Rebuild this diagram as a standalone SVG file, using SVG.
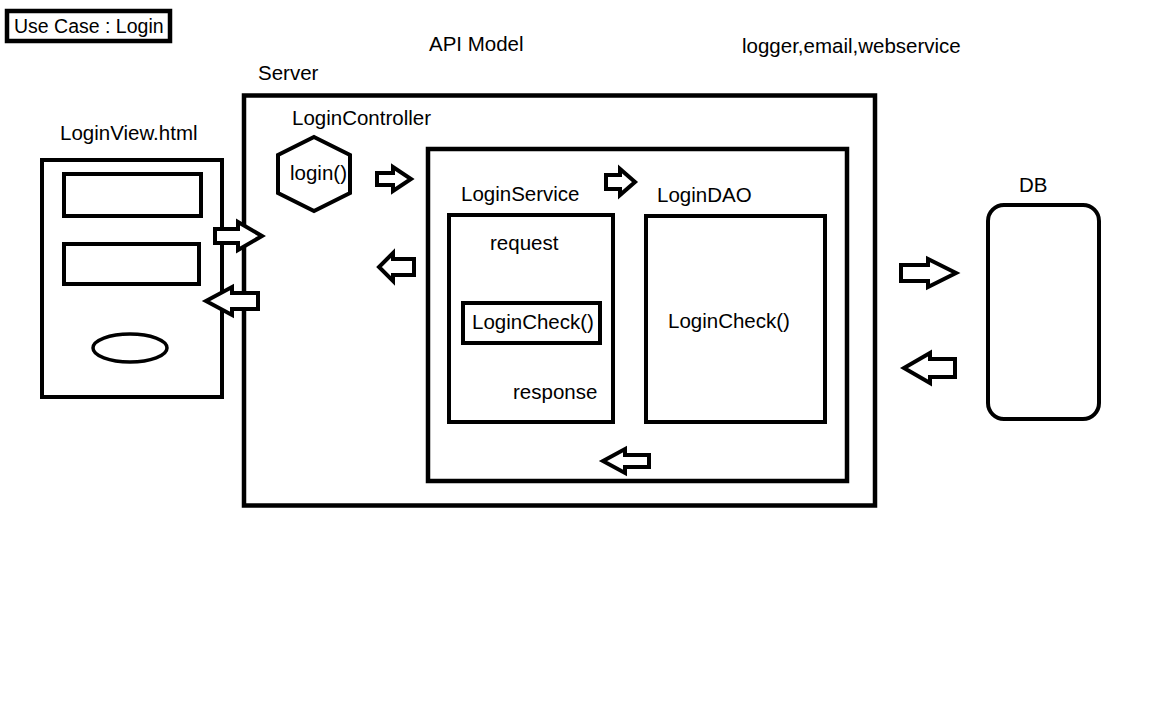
<svg xmlns="http://www.w3.org/2000/svg" width="1152" height="720" viewBox="0 0 1152 720">
<style>
.box{fill:none;stroke:#000;stroke-width:4.5}
.thin{fill:none;stroke:#000;stroke-width:4}
.arr{fill:#fff;stroke:#000;stroke-width:4;stroke-linejoin:miter}
text{font-family:"Liberation Sans",Arial,sans-serif;font-size:20.5px;fill:#000}
</style>
<rect width="1152" height="720" fill="#fff"/>
<g id="title">
<rect x="7" y="11" width="163" height="30" class="box"/>
<text x="14" y="33" style="font-size:19.5px">Use Case : Login</text>
</g>
<g id="labels">
<text x="429" y="51">API Model</text>
<text x="742" y="53">logger,email,webservice</text>
</g>
<g id="server">
<text x="258" y="80">Server</text>
<rect x="244" y="95.5" width="631" height="410" class="box"/>
</g>
<g id="loginView">
<text x="60" y="140">LoginView.html</text>
<rect x="42" y="160" width="180" height="237" class="thin"/>
<rect x="64" y="174" width="137" height="42" class="thin"/>
<rect x="64" y="244" width="135" height="40" class="thin"/>
<ellipse cx="130" cy="348" rx="37" ry="14" class="thin" style="stroke-width:3.5"/>
</g>
<g id="loginController">
<text x="292" y="125">LoginController</text>
<polygon points="314,137 350,155 350,193 314,211 278,193 278,155" class="thin"/>
<text x="290" y="180">login()</text>
</g>
<g id="apiContainer">
<rect x="428" y="149" width="419" height="332" class="box"/>
</g>
<g id="loginService">
<text x="461" y="201">LoginService</text>
<rect x="449" y="215" width="164" height="207" class="thin"/>
<text x="490" y="250">request</text>
<rect x="463" y="303" width="137" height="40" class="thin"/>
<text x="472" y="329">LoginCheck()</text>
<text x="513" y="399">response</text>
</g>
<g id="loginDAO">
<text x="657" y="202">LoginDAO</text>
<rect x="646" y="216" width="179" height="206" class="thin"/>
<text x="668" y="328">LoginCheck()</text>
</g>
<g id="db">
<text x="1019" y="192">DB</text>
<rect x="988" y="205" width="111" height="214" rx="16" ry="16" class="thin"/>
</g>
<g id="connectors">
<path class="arr" d="M215,229 H238 V222 L262,236 L238,250 V243 H215 Z"/>
<path class="arr" d="M258,293 H232 V287 L206,301 L232,315 V309 H258 Z"/>
<path class="arr" d="M377,173 H393 V167 L411,179 L393,191 V185 H377 Z"/>
<path class="arr" d="M414,259 H393 V253 L379,267 L393,281 V275 H414 Z"/>
<path class="arr" d="M606,175 H620 V169 L635,182 L620,195 V189 H606 Z"/>
<path class="arr" d="M649,455 H625 V449 L603,461 L625,473 V467 H649 Z"/>
<path class="arr" d="M901,265 H928 V259 L956,273 L928,287 V281 H901 Z"/>
<path class="arr" d="M955,359 H930 V353 L904,368 L930,383 V377 H955 Z"/>
</g>
</svg>
